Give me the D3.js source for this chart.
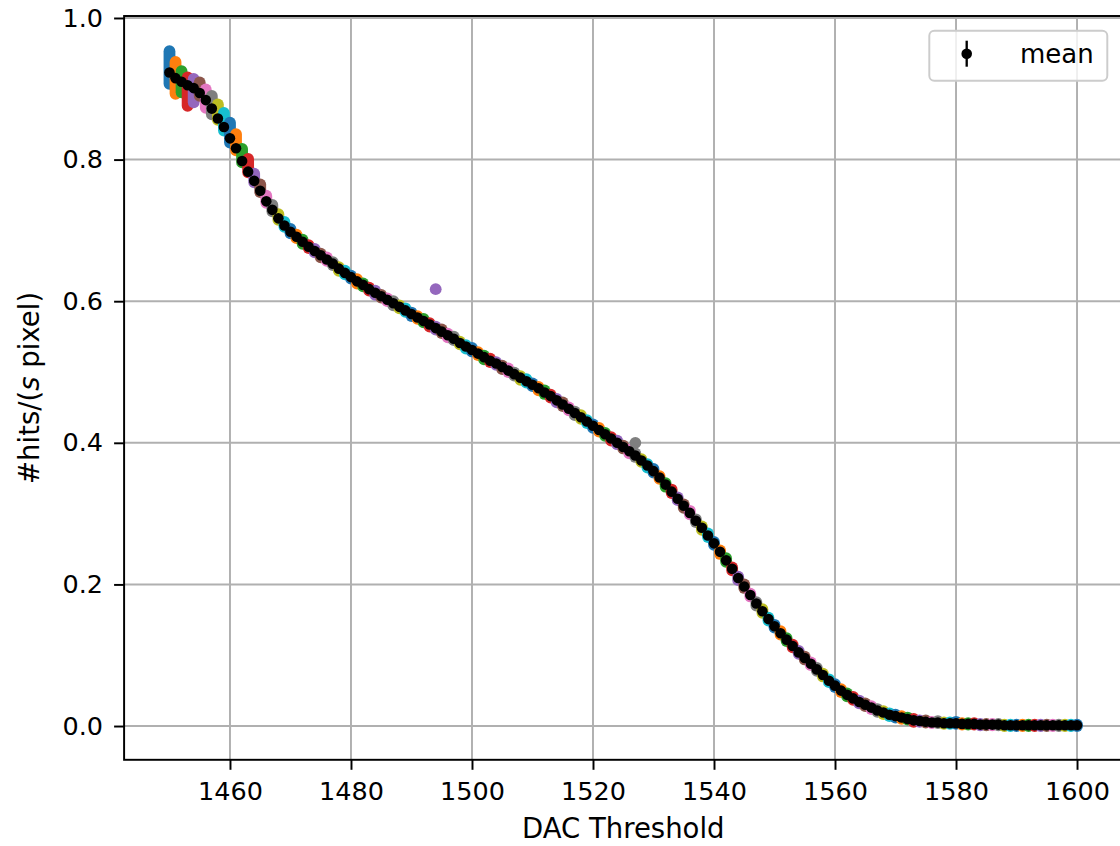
<!DOCTYPE html>
<html>
<head>
<meta charset="utf-8">
<script src="https://cdn.jsdelivr.net/npm/d3@7/dist/d3.min.js"></script>
<style>
  html, body { margin: 0; padding: 0; background: #fff; }
  svg { display: block; }
  text { font-family: "DejaVu Sans", sans-serif; fill: #000; }
</style>
</head>
<body>
<svg id="chart" width="1120" height="846"></svg>
<script>
// ---------------- data ----------------
const dacFirst = 1450, dacLast = 1600;
const dac = d3.range(dacFirst, dacLast + 1);

// mean rate per DAC threshold (1450 .. 1600)
const meanRate = [
  0.923, 0.915, 0.910, 0.905, 0.901, 0.894, 0.884, 0.872, 0.858, 0.846,
  0.830, 0.816, 0.798, 0.783, 0.770, 0.756, 0.741, 0.729, 0.717, 0.707,
  0.698, 0.691, 0.684, 0.677, 0.671, 0.665, 0.659, 0.653, 0.646, 0.640,
  0.634, 0.628, 0.623, 0.617, 0.612, 0.607, 0.602, 0.597, 0.592, 0.587,
  0.582, 0.577, 0.572, 0.567, 0.562, 0.557, 0.552, 0.547, 0.541, 0.536,
  0.531, 0.526, 0.521, 0.516, 0.512, 0.507, 0.502, 0.497, 0.492, 0.487,
  0.482, 0.477, 0.471, 0.466, 0.460, 0.454, 0.448, 0.442, 0.436, 0.430,
  0.424, 0.418, 0.412, 0.406, 0.400, 0.394, 0.388, 0.382, 0.375, 0.368,
  0.360, 0.351, 0.341, 0.331, 0.321, 0.311, 0.301, 0.290, 0.280, 0.269,
  0.258, 0.246, 0.234, 0.222, 0.209, 0.197, 0.185, 0.173, 0.162, 0.151,
  0.141, 0.131, 0.122, 0.113, 0.104, 0.096, 0.088, 0.080, 0.072, 0.064,
  0.057, 0.050, 0.044, 0.039, 0.034, 0.030, 0.026, 0.022, 0.019, 0.016,
  0.014, 0.012, 0.010, 0.008, 0.007, 0.006, 0.005, 0.005, 0.004, 0.004,
  0.004, 0.003, 0.003, 0.003, 0.002, 0.002, 0.002, 0.002, 0.001, 0.001,
  0.001, 0.001, 0.001, 0.001, 0.001, 0.001, 0.001, 0.001, 0.001, 0.001,
  0.001
];

// highest single-pixel rate above the mean, per DAC step (units of 0.001)
const pixelAbove = [
  30, 23, 15, 11, 13, 15, 15, 18, 20, 20, 22, 20, 17, 18, 10,  9,  8, 7, 6, 5,
   4,  3,  3,  2,  3,  2,  3,  2,  2,  3,  2,  3,  2,  2,  3,  2,  2,  3,  2,  3,
   2,  2,  3,  2,  2,  3,  2,  3,  2,  2,  3,  2,  2,  3,  2,  2,  3,  2,  2,  3,
   2,  2,  3,  2,  2,  3,  2,  2,  3,  2,  2,  3,  2,  2,  3,  2,  2,  3,  2,  2,
   3,  2,  2,  3,  2,  2,  3,  2,  2,  3,  2,  2,  3,  2,  2,  3,  2,  2,  3,  2,
   2,  3,  2,  2,  2,  2,  2,  2,  2,  2,  2,  2,  2,  2,  2,  2,  2,  2,  2,  2,
   2,  2,  2,  2,  1,  2,  1,  2,  1,  1,  2,  1,  1,  1,  1,  1,  1,  1,  1,  1,
   1,  1,  1,  1,  1,  1,  1,  1,  1,  1,  1
];
// lowest single-pixel rate below the mean, per DAC step (units of 0.001)
const pixelBelow = [
  16, 22, 15, 29, 20,  4, 11,  8,  2,  5,  6,  3,  2,  1,  2,  2,  2,  2,  2,  2,
   2,  2,  3,  2,  2,  3,  2,  2,  3,  2,  2,  3,  2,  2,  3,  2,  2,  3,  2,  2,
   3,  2,  2,  3,  2,  2,  3,  2,  2,  3,  2,  2,  3,  2,  2,  3,  2,  2,  3,  2,
   2,  3,  2,  2,  3,  2,  2,  3,  2,  2,  3,  2,  2,  3,  2,  2,  3,  2,  2,  3,
   2,  2,  3,  2,  2,  3,  2,  2,  3,  2,  2,  3,  2,  2,  3,  2,  2,  3,  2,  2,
   2,  2,  2,  2,  2,  2,  2,  2,  2,  2,  2,  2,  2,  2,  2,  2,  2,  2,  2,  2,
   2,  2,  1,  2,  1,  1,  1,  1,  1,  1,  1,  1,  1,  1,  1,  1,  1,  1,  1,  1,
   1,  1,  1,  1,  1,  1,  1,  1,  1,  1,  1
];

// isolated pixel outliers [DAC, rate]
const outliers = [[1494, 0.617], [1527, 0.400]];

const xTicks = [1460, 1480, 1500, 1520, 1540, 1560, 1580, 1600];
const yTicks = [0.0, 0.2, 0.4, 0.6, 0.8, 1.0];
const palette = ["#1f77b4", "#ff7f0e", "#2ca02c", "#d62728", "#9467bd",
                 "#8c564b", "#e377c2", "#7f7f7f", "#bcbd22", "#17becf"];
const xLabel = "DAC Threshold";
const legendLabel = "mean";

// ---------------- layout ----------------
const svg = d3.select("#chart");
const plotL = 124.1, plotR = 1122.4, plotT = 16.0, plotB = 759.8;
const x = d3.scaleLinear().domain([1442.5, 1607.5]).range([plotL, plotR]);
const y = d3.scaleLinear().domain([-0.0477, 1.0028]).range([plotB, plotT]);
const meanR = 5.3, pixR = 5.9;
const gridColor = "#b0b0b0";
const lw = 1.95;
const tickFont = "25.5px", labelFont = "27.5px";

// grid
const grid = svg.append("g");
grid.selectAll("line.vx").data(xTicks).join("line")
  .attr("x1", d => x(d)).attr("x2", d => x(d))
  .attr("y1", plotT).attr("y2", plotB)
  .attr("stroke", gridColor).attr("stroke-width", lw);
grid.selectAll("line.hy").data(yTicks).join("line")
  .attr("x1", plotL).attr("x2", plotR)
  .attr("y1", d => y(d)).attr("y2", d => y(d))
  .attr("stroke", gridColor).attr("stroke-width", lw);

// per-pixel spread (colored, one color per DAC step)
const pts = dac.map((d, i) => ({
  dac: d, mean: meanRate[i],
  hi: meanRate[i] + pixelAbove[i] / 1000,
  lo: meanRate[i] - pixelBelow[i] / 1000,
  color: palette[i % 10]
}));
svg.append("g").selectAll("line").data(pts).join("line")
  .attr("x1", d => x(d.dac)).attr("x2", d => x(d.dac))
  .attr("y1", d => y(d.hi)).attr("y2", d => y(d.lo))
  .attr("stroke", d => d.color)
  .attr("stroke-width", pixR * 2)
  .attr("stroke-linecap", "round");

svg.append("g").selectAll("circle").data(outliers).join("circle")
  .attr("cx", d => x(d[0])).attr("cy", d => y(d[1]))
  .attr("r", pixR)
  .attr("fill", d => palette[(d[0] - dacFirst) % 10]);

// mean
svg.append("g").selectAll("circle").data(pts).join("circle")
  .attr("cx", d => x(d.dac)).attr("cy", d => y(d.mean))
  .attr("r", meanR).attr("fill", "#000");

// axes
const xAxis = d3.axisBottom(x).tickValues(xTicks).tickFormat(d3.format("d"))
  .tickSize(10).tickPadding(12.5);
const gx = svg.append("g").attr("transform", `translate(0,${plotB})`).call(xAxis);
const yAxis = d3.axisLeft(y).tickValues(yTicks).tickFormat(d3.format(".1f"))
  .tickSize(10).tickPadding(11);
const gy = svg.append("g").attr("transform", `translate(${plotL},0)`).call(yAxis);
[gx, gy].forEach(g => {
  g.select(".domain").remove();
  g.selectAll(".tick line").attr("stroke", "#000").attr("stroke-width", lw);
  g.selectAll(".tick text").attr("font-size", tickFont)
    .attr("font-family", "DejaVu Sans").attr("fill", "#000");
});

// spines
svg.append("rect").attr("x", plotL).attr("y", plotT)
  .attr("width", plotR - plotL).attr("height", plotB - plotT)
  .attr("fill", "none").attr("stroke", "#000").attr("stroke-width", lw);

// labels
svg.append("text").attr("x", (plotL + plotR) / 2).attr("y", 838)
  .attr("text-anchor", "middle").attr("font-size", labelFont).text(xLabel);

const yl = svg.append("text")
  .attr("transform", `translate(38.5,${(plotT + plotB) / 2}) rotate(-90)`)
  .attr("text-anchor", "middle").attr("font-size", labelFont);
yl.append("tspan").text("#hits/(");
yl.append("tspan").attr("font-style", "italic").text("s");
yl.append("tspan").text(" pixel)");

// legend
const lg = svg.append("g");
lg.append("rect").attr("x", 929.3).attr("y", 30.7)
  .attr("width", 178).attr("height", 50).attr("rx", 5)
  .attr("fill", "#fff").attr("fill-opacity", 0.8)
  .attr("stroke", "#cccccc").attr("stroke-width", lw);
lg.append("line").attr("x1", 966.7).attr("x2", 966.7)
  .attr("y1", 40.7).attr("y2", 66.7).attr("stroke", "#000").attr("stroke-width", lw * 1.2);
lg.append("circle").attr("cx", 966.7).attr("cy", 53.7).attr("r", meanR).attr("fill", "#000");
lg.append("text").attr("x", 1020).attr("y", 63).attr("font-size", "26px").text(legendLabel);
</script>
</body>
</html>
